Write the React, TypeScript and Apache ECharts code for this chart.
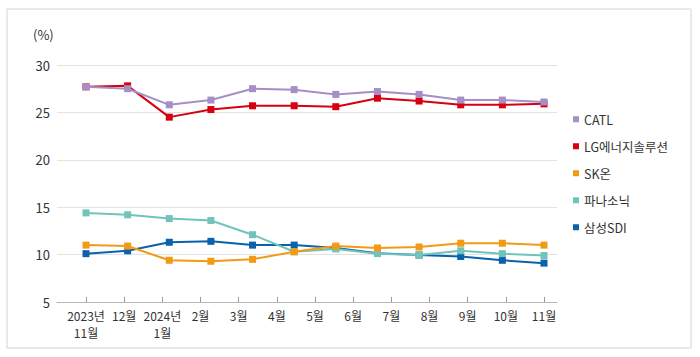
import React, { useEffect, useRef } from "react";
import * as echarts from "echarts";

const months = ["2023년\n11월", "12월", "2024년\n1월", "2월", "3월", "4월", "5월", "6월", "7월", "8월", "9월", "10월", "11월"];
const yTicks = { min: 5, max: 30, step: 5 };

const catl = [27.7, 27.5, 25.8, 26.3, 27.5, 27.4, 26.9, 27.2, 26.9, 26.3, 26.3, 26.1];
const lges = [27.7, 27.8, 24.5, 25.3, 25.7, 25.7, 25.6, 26.5, 26.2, 25.8, 25.8, 25.9];
const skon = [11.0, 10.9, 9.4, 9.3, 9.5, 10.3, 10.9, 10.7, 10.8, 11.2, 11.2, 11.0];
const panasonic = [14.4, 14.2, 13.8, 13.6, 12.1, 10.3, 10.6, 10.1, 9.95, 10.4, 10.1, 9.9];
const samsung = [10.1, 10.4, 11.3, 11.4, 11.0, 11.0, 10.7, 10.15, 9.95, 9.8, 9.4, 9.1];

const seriesNames = ["CATL", "LG에너지솔루션", "SK온", "파나소닉", "삼성SDI"];
const seriesData = [catl, lges, skon, panasonic, samsung];
const seriesColors = ["#a58fc6", "#d7000f", "#f39a14", "#70c4b9", "#0a62ad"];

const FONT = "'Noto Sans CJK KR', 'Noto Sans', sans-serif";

export default function App() {
  const ref = useRef<HTMLDivElement>(null);
  useEffect(() => {
    if (!ref.current) return;
    const chart = echarts.init(ref.current, undefined, { renderer: "svg" });
    chart.setOption({
      animation: false,
      backgroundColor: "#ffffff",
      textStyle: { fontFamily: FONT },
      grid: [
        { left: 57, right: 143, top: 65, bottom: 55 },
        { left: 86, right: 156, top: 65, bottom: 55 },
      ],
      xAxis: [
        {
          type: "value",
          gridIndex: 0,
          min: 0,
          max: 1,
          axisLine: { show: true, lineStyle: { color: "#b8b8b8", width: 1 } },
          axisTick: { show: false },
          axisLabel: { show: false },
          splitLine: { show: false },
        },
        {
          type: "category",
          gridIndex: 1,
          data: months,
          boundaryGap: false,
          axisLine: { show: false },
          axisTick: { show: true, inside: true, length: 5, lineStyle: { color: "#9a9a9a" } },
          axisLabel: {
            color: "#333",
            fontSize: 12,
            fontFamily: FONT,
            margin: 5,
            lineHeight: 17,
            interval: 0,
          },
          splitLine: { show: false },
        },
        {
          type: "value",
          gridIndex: 1,
          min: 0,
          max: catl.length - 1,
          show: false,
        },
      ],
      yAxis: [
        {
          type: "value",
          gridIndex: 0,
          min: yTicks.min,
          max: yTicks.max,
          interval: yTicks.step,
          axisLine: { show: false },
          axisTick: { show: false },
          axisLabel: { color: "#333", fontSize: 13, fontFamily: FONT, margin: 7 },
          splitLine: { show: true, lineStyle: { color: "#e2e2e2", width: 1 } },
        },
        {
          type: "value",
          gridIndex: 1,
          min: yTicks.min,
          max: yTicks.max,
          show: false,
        },
      ],
      legend: {
        orient: "vertical",
        left: 568,
        top: 108,
        itemWidth: 6,
        itemHeight: 6,
        itemGap: 14.5,
        icon: "rect",
        textStyle: { color: "#333", fontSize: 12.5, fontFamily: FONT, padding: [0, 0, 0, 0] },
        data: seriesNames,
      },
      graphic: [
        {
          type: "rect",
          shape: { x: 7, y: 9, width: 684, height: 339 },
          style: { fill: "none", stroke: "#d4d4d4", lineWidth: 1 },
          silent: true,
        },
        {
          type: "text",
          left: 33,
          top: 28,
          style: { text: "(%)", fill: "#333", font: `13px ${FONT}` },
        },
      ],
      series: seriesNames.map((name, si) => ({
        name,
        type: "line",
        xAxisIndex: 2,
        yAxisIndex: 1,
        data: seriesData[si].map((v, i) => [i, v]),
        symbol: "rect",
        symbolSize: 7,
        lineStyle: { color: seriesColors[si], width: 2 },
        itemStyle: { color: seriesColors[si] },
        z: 2 + (seriesNames.length - si),
      })),
    });
    return () => chart.dispose();
  }, []);
  return <div ref={ref} style={{ position: "absolute", left: 0, top: 0, width: 700, height: 357 }} />;
}
